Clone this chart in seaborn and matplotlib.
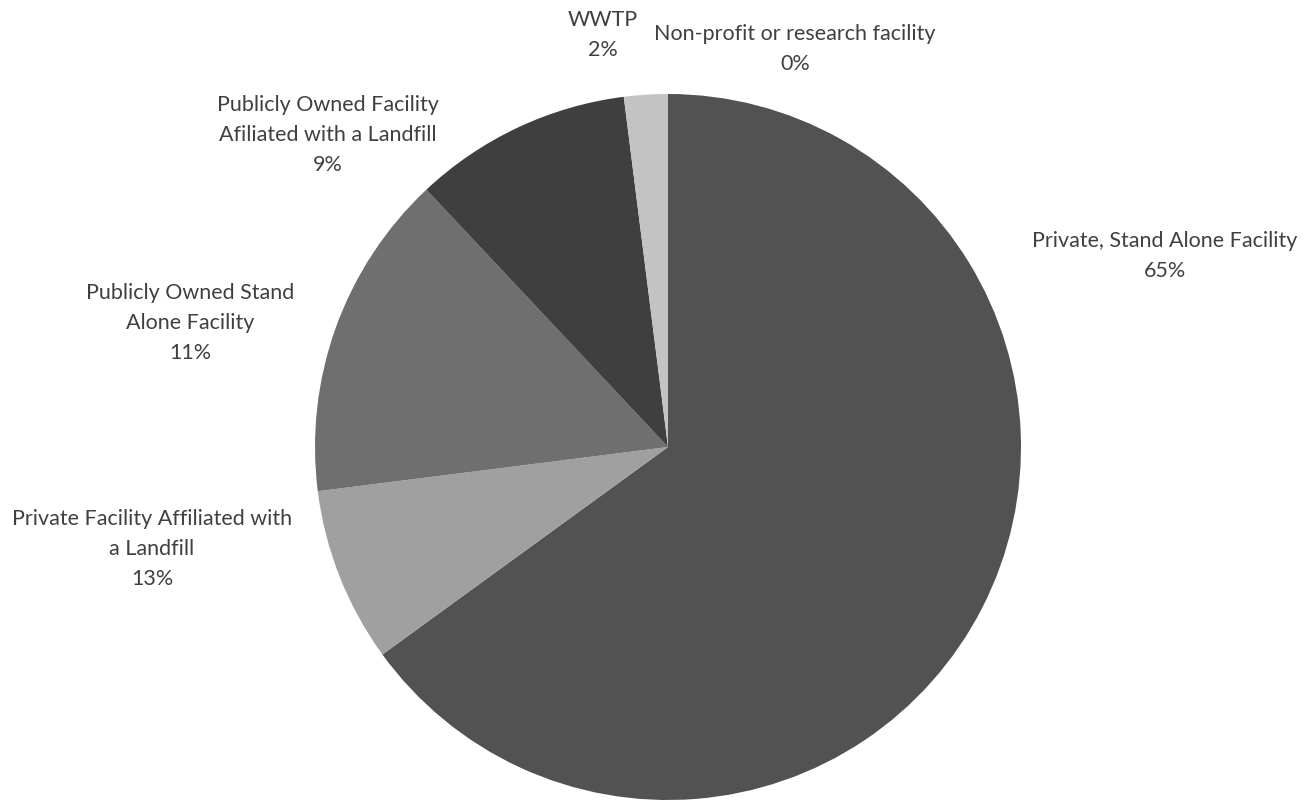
import matplotlib
matplotlib.use("Agg")
import matplotlib.pyplot as plt
import seaborn as sns

categories = [
    "Private, Stand Alone Facility",
    "Private Facility Affiliated with\na Landfill",
    "Publicly Owned Stand\nAlone Facility",
    "Publicly Owned Facility\nAfiliated with a Landfill",
    "WWTP",
    "Non-profit or research facility",
]
values = [65, 8, 15, 10, 2, 0]
label_pcts = ["65%", "13%", "11%", "9%", "2%", "0%"]
colors = ["#525252", "#a0a0a0", "#6f6f6f", "#3f3f3f", "#c3c3c3", "#8a8a8a"]

sns.set_theme(style="white")
plt.rcParams["font.family"] = ["Lato", "DejaVu Sans"]

W, H = 1312, 800
fig = plt.figure(figsize=(W / 100, H / 100), dpi=100)
ax = fig.add_axes([0, 0, 1, 1])

cx, cy, r = 668, H - 447, 353
ax.pie(values, colors=colors, startangle=90, counterclock=False,
       center=(cx, cy), radius=r, frame=True,
       wedgeprops=dict(linewidth=0))
ax.set_xlim(0, W)
ax.set_ylim(0, H)
ax.set_aspect("equal")
ax.axis("off")

label_pos = [(1165, 256), (152, 549), (190, 323), (328, 135), (603, 35), (795, 49)]
for cat, pct, (x, y) in zip(categories, label_pcts, label_pos):
    ax.text(x, H - y, f"{cat}\n{pct}", ha="center", va="center",
            fontsize=15.5, color="#404040", linespacing=1.6)

fig.savefig("out.png", dpi=100)
